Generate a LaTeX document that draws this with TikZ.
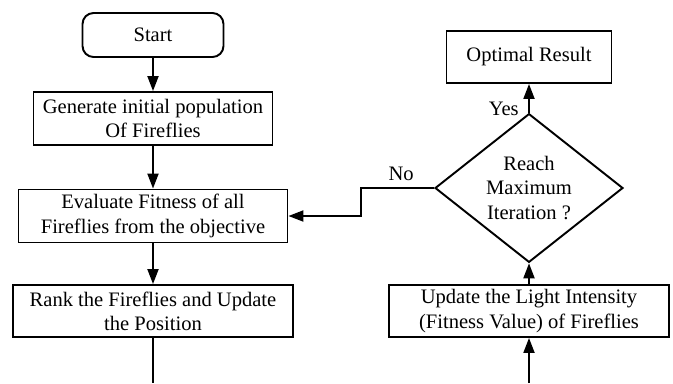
\documentclass[tikz,border=0pt]{standalone}
\usepackage{fontspec}
\setmainfont{Liberation Serif}
\usepackage{tikz}
\usetikzlibrary{positioning,shapes,arrows.meta}

\begin{document}
\begin{tikzpicture}[x=0.02cm,y=-0.02cm,line width=1.1pt,
  font=\fontsize{11.7}{13.8}\selectfont,
  box/.style={draw,rectangle,align=center,inner sep=1pt},
  term/.style={draw,rectangle,rounded corners=0.22cm,align=center},
  decide/.style={draw,diamond,align=center,inner sep=0pt},
  arr/.style={-{Triangle[length=0.3cm,width=0.22cm]}}]
\useasboundingbox (0,0) rectangle (673,383);
% left column
\node [term,minimum width=2.82cm,minimum height=0.88cm] (start) at (153,35) {Start};
\node [box,minimum width=4.78cm,minimum height=1.06cm] (gen) at (153,118.5) {Generate initial population\\Of Fireflies};
\node [box,minimum width=5.38cm,minimum height=1.06cm] (eval) at (153,216) {Evaluate Fitness of all\\Fireflies from the objective};
\node [box,minimum width=5.6cm,minimum height=1.04cm] (rank) at (153,311) {Rank the Fireflies and Update\\the Position};
\coordinate (lend) at (153,383);
% right column
\node [box,minimum width=5.6cm,minimum height=1.04cm] (upd) at (529,311) {Update the Light Intensity\\(Fitness Value) of Fireflies};
\node [decide,minimum width=3.76cm,minimum height=2.6cm] (dec) at (529,188) {Reach\\Maximum\\Iteration ?};
\node [box,minimum width=3.3cm,minimum height=1.04cm] (opt) at (529,57) {Optimal Result};
\coordinate (rend) at (529,383);
% connectors
\draw [arr] (start) -- (gen);
\draw [arr] (gen) -- (eval);
\draw [arr] (eval) -- (rank);
\draw (rank) -- (lend);
\draw [arr] (rend) -- (upd);
\draw [arr] (upd) -- (dec);
\draw [arr] (dec) -- node [left,pos=0.12,xshift=-2pt] {Yes} (opt);
\draw [arr] (dec.west) -- node [above,pos=0.45] {No} ++(-73,0) |- (eval.east);
\end{tikzpicture}
\end{document}
